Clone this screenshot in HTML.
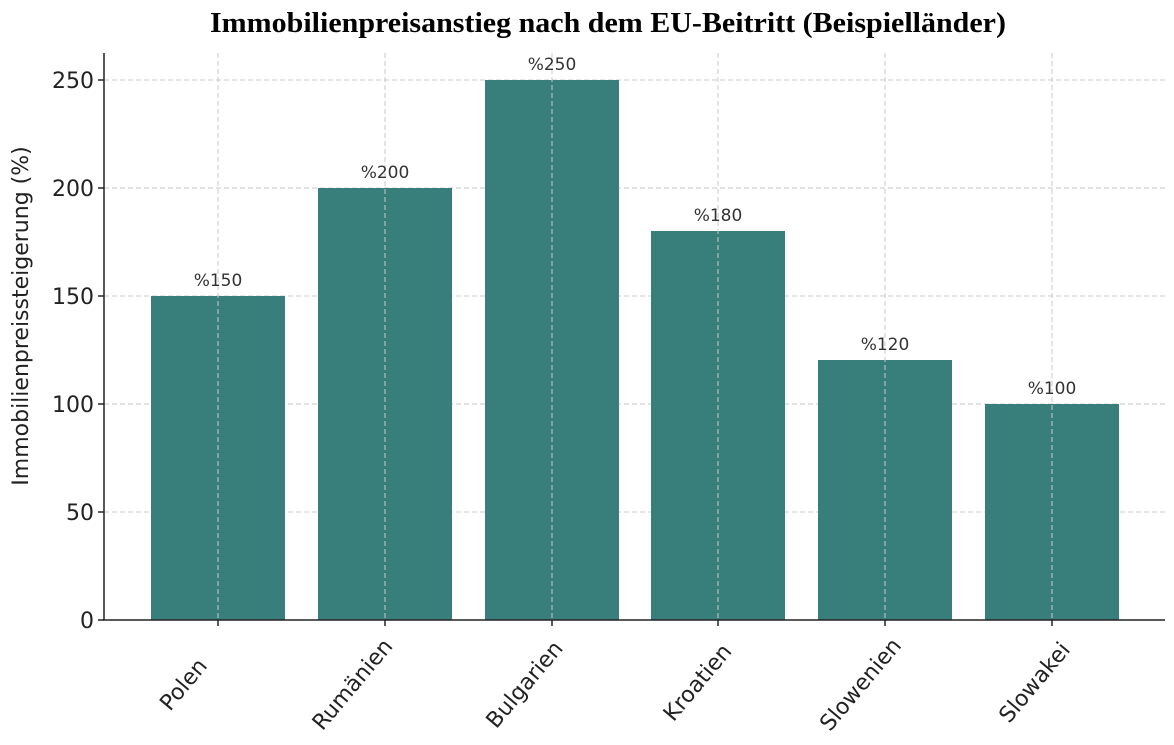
<!DOCTYPE html>
<html><head><meta charset="utf-8"><style>body{margin:0;background:#fff}</style></head><body>
<svg width="1174" height="740" xmlns="http://www.w3.org/2000/svg" font-family="DejaVu Sans, Liberation Sans, sans-serif">
<text x="608" y="32" text-anchor="middle" font-family="Liberation Serif, serif" font-weight="bold" font-size="29" textLength="796" lengthAdjust="spacingAndGlyphs" fill="#000">Immobilienpreisanstieg nach dem EU-Beitritt (Beispielländer)</text>
<g stroke="#c8c8c8" stroke-dasharray="5,3" stroke-width="1">
<line x1="104" x2="1165" y1="512" y2="512"/><line x1="104" x2="1165" y1="404" y2="404"/><line x1="104" x2="1165" y1="296" y2="296"/><line x1="104" x2="1165" y1="188" y2="188"/><line x1="104" x2="1165" y1="80" y2="80"/>
</g>
<g fill="#387f7c">
<rect x="151" y="296" width="134" height="324"/>
<rect x="318" y="188" width="134" height="432"/>
<rect x="485" y="80" width="134" height="540"/>
<rect x="651" y="231" width="134" height="389"/>
<rect x="818" y="360" width="134" height="260"/>
<rect x="985" y="404" width="134" height="216"/>
</g>
<g stroke="#c8c8c8" stroke-dasharray="5,3" stroke-width="1">
<line x1="218" x2="218" y1="53" y2="620"/><line x1="385" x2="385" y1="53" y2="620"/><line x1="552" x2="552" y1="53" y2="620"/><line x1="718" x2="718" y1="53" y2="620"/><line x1="885" x2="885" y1="53" y2="620"/><line x1="1052" x2="1052" y1="53" y2="620"/>
</g>
<g fill="#333" font-size="17" text-anchor="middle">
<text x="218" y="286">%150</text><text x="385" y="178">%200</text><text x="552" y="70">%250</text><text x="718" y="221">%180</text><text x="885" y="350">%120</text><text x="1052" y="394">%100</text>
</g>
<line x1="104" y1="53" x2="104" y2="620.5" stroke="#222" stroke-width="1.5"/>
<line x1="103" y1="620" x2="1165" y2="620" stroke="#222" stroke-width="1.5"/>
<g stroke="#222" stroke-width="1.5">
<line x1="98" x2="104" y1="620" y2="620"/><line x1="98" x2="104" y1="512" y2="512"/><line x1="98" x2="104" y1="404" y2="404"/><line x1="98" x2="104" y1="296" y2="296"/><line x1="98" x2="104" y1="188" y2="188"/><line x1="98" x2="104" y1="80" y2="80"/>
<line x1="218" x2="218" y1="620" y2="626"/><line x1="385" x2="385" y1="620" y2="626"/><line x1="552" x2="552" y1="620" y2="626"/><line x1="718" x2="718" y1="620" y2="626"/><line x1="885" x2="885" y1="620" y2="626"/><line x1="1052" x2="1052" y1="620" y2="626"/>
</g>
<g fill="#222" font-size="22" text-anchor="end">
<text x="94" y="628">0</text><text x="94" y="520">50</text><text x="94" y="412">100</text><text x="94" y="304">150</text><text x="94" y="196">200</text><text x="94" y="88">250</text>
</g>
<text transform="translate(28,316) rotate(-90)" text-anchor="middle" font-size="22" fill="#222">Immobilienpreissteigerung (%)</text>
<g fill="#222" font-size="22" text-anchor="middle">
<text transform="translate(183,684) rotate(-50)" dy="8">Polen</text>
<text transform="translate(352,684) rotate(-50)" dy="8">Rumänien</text>
<text transform="translate(524,684) rotate(-50)" dy="8">Bulgarien</text>
<text transform="translate(697,682) rotate(-50)" dy="8">Kroatien</text>
<text transform="translate(860,684) rotate(-50)" dy="8">Slowenien</text>
<text transform="translate(1034,682) rotate(-50)" dy="8">Slowakei</text>
</g>
</svg>
</body></html>
